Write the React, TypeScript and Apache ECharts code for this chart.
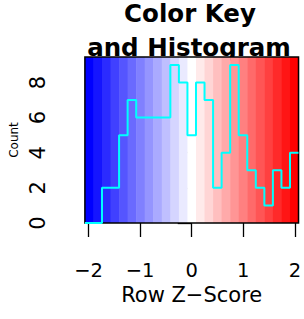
import React, { useEffect, useRef } from "react";
import * as echarts from "echarts";

// Histogram counts per colour-key bin (left to right)
const counts = [0, 0, 2, 2, 5, 7, 6, 6, 6, 6, 9, 8, 5, 8, 7, 2, 4, 9, 5, 3, 2, 1, 3, 2, 4];
const keyMin = -2.07;
const keyMax = 2.07;
const xTickValues = [-2, -1, 0, 1, 2];
const yTickValues = [0, 2, 4, 6, 8];
const yMax = 9.45;
const titleLine1 = "Color Key";
const titleLine2 = "and Histogram";
const xTitle = "Row Z\u2212Score";
const yTitle = "Count";

const FONT = "'DejaVu Sans', 'Liberation Sans', Arial, sans-serif";

function bluered(n: number): string[] {
  const out: string[] = [];
  const half = (n - 1) / 2;
  for (let i = 0; i < n; i++) {
    let r: number, g: number, b: number;
    if (i <= half) {
      const t = i / half;
      r = Math.round(255 * t);
      g = r;
      b = 255;
    } else {
      const s = (i - half) / half;
      r = 255;
      g = Math.round(255 * (1 - s));
      b = g;
    }
    out.push(`rgb(${r},${g},${b})`);
  }
  return out;
}

export default function App() {
  const ref = useRef<HTMLDivElement>(null);
  useEffect(() => {
    if (!ref.current) return;
    const chart = echarts.init(ref.current, undefined, { renderer: "svg" });
    const n = counts.length;
    const step = (keyMax - keyMin) / n;
    const breaks = Array.from({ length: n + 1 }, (_, i) => keyMin + i * step);
    const colors = bluered(n);
    const bandData = counts.map((_, i) => [breaks[i], breaks[i + 1], i]);
    const lineData = breaks.map((b, i) => [b, counts[Math.min(i, n - 1)]]);

    const titleStyle = {
      fontFamily: FONT,
      fontWeight: "bold",
      fontSize: 24.5,
      color: "#000",
    };

    chart.setOption({
      animation: false,
      backgroundColor: "#ffffff",
      title: [
        {
          text: titleLine1,
          left: 190,
          top: 1,
          padding: 0,
          textAlign: "center",
          z: 0,
          textStyle: titleStyle,
        },
        {
          text: titleLine2,
          left: 189,
          top: 35,
          padding: 0,
          textAlign: "center",
          z: 0,
          textStyle: titleStyle,
        },
      ],
      grid: {
        left: 78,
        right: 3,
        top: 57,
        bottom: 96,
        show: true,
        borderColor: "#000",
        borderWidth: 1.5,
        backgroundColor: "transparent",
        z: 10,
      },
      xAxis: {
        type: "value",
        min: keyMin,
        max: keyMax,
        axisLine: { show: false },
        splitLine: { show: false },
        axisTick: {
          show: true,
          length: 14,
          customValues: xTickValues,
          lineStyle: { color: "#000", width: 1.3 },
        },
        axisLabel: {
          customValues: xTickValues,
          margin: 37,
          fontFamily: FONT,
          fontSize: 19.5,
          color: "#000",
          formatter: (v: number) => (v < 0 ? "\u2212" + Math.abs(v) : String(v)),
        },
        name: xTitle,
        nameLocation: "middle",
        nameGap: 61,
        nameTextStyle: { fontFamily: FONT, fontSize: 21, color: "#000" },
      },
      yAxis: {
        type: "value",
        min: 0,
        max: yMax,
        axisLine: { show: false },
        splitLine: { show: false },
        axisTick: {
          show: true,
          length: 14,
          customValues: yTickValues,
          lineStyle: { color: "#000", width: 1.3 },
        },
        axisLabel: {
          customValues: yTickValues,
          rotate: 90,
          margin: 36,
          fontFamily: FONT,
          fontSize: 21,
          color: "#000",
        },
        name: yTitle,
        nameLocation: "middle",
        nameGap: 57,
        nameTextStyle: { fontFamily: FONT, fontSize: 12, color: "#000" },
      },
      series: [
        {
          type: "custom",
          z: 1,
          data: bandData,
          renderItem: (params: any, api: any) => {
            const x0 = api.value(0);
            const x1 = api.value(1);
            const idx = api.value(2);
            const p0 = api.coord([x0, yMax]);
            const p1 = api.coord([x1, 0]);
            return {
              type: "rect",
              shape: { x: p0[0], y: p0[1], width: p1[0] - p0[0] + 0.5, height: p1[1] - p0[1] },
              style: { fill: colors[idx], stroke: null },
            };
          },
          encode: { x: [0, 1], y: 2 },
          silent: true,
        },
        {
          type: "line",
          z: 20,
          step: "end",
          data: lineData,
          showSymbol: false,
          symbol: "none",
          lineStyle: { color: "#00ffff", width: 2 },
          silent: true,
        },
      ],
    });
    return () => chart.dispose();
  }, []);
  return (
    <div
      ref={ref}
      style={{ position: "fixed", left: 0, top: 0, width: 304, height: 319 }}
    />
  );
}
